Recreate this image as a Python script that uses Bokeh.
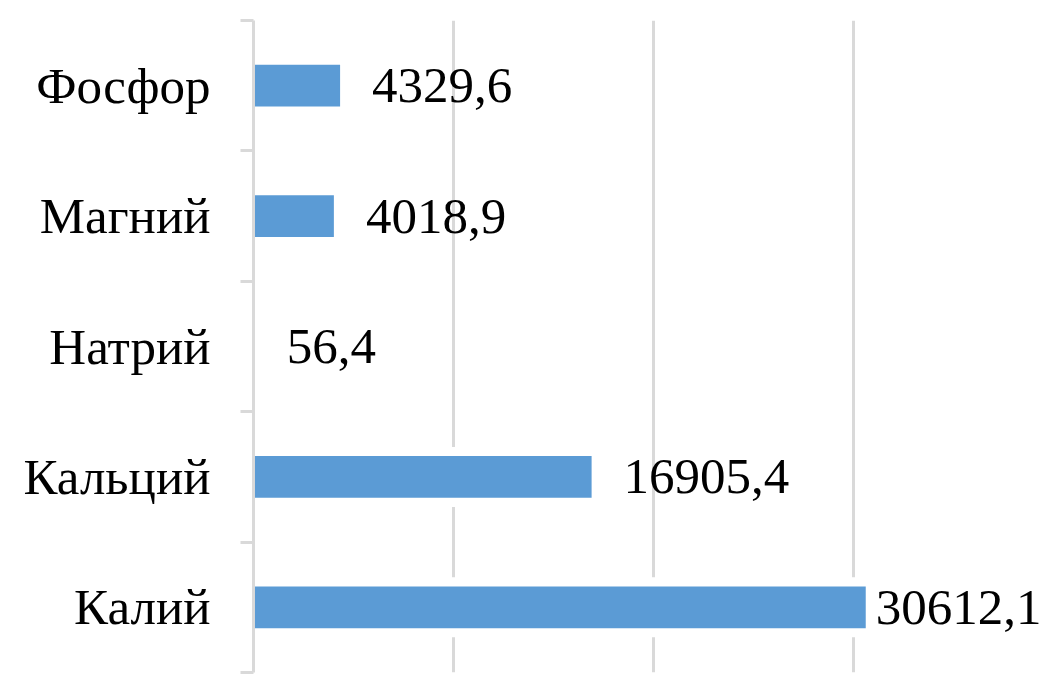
from bokeh.plotting import figure
from bokeh.models import ColumnDataSource, FixedTicker, Range1d
from bokeh.core.properties import value
from bokeh.embed import file_html
from bokeh.resources import INLINE

# Data (bottom to top)
categories = ["Калий", "Кальций", "Натрий", "Магний", "Фосфор"]
values = [30612.1, 16905.4, 56.4, 4018.9, 4329.6]
grid_values = [10000, 20000, 30000]

pos = [i + 0.5 for i in range(len(categories))]
labels = [f"{v:.1f}".replace(".", ",") for v in values]
vmax = max(values)
offsets = [10 if v > 0.8 * vmax else 32 for v in values]

src = ColumnDataSource(dict(y=pos, v=values, lab=labels, off=offsets))

GRAY = "#d9d9d9"
FONT = "Liberation Serif"
FS = "51px"

p = figure(width=1047, height=675, output_backend="svg", toolbar_location=None,
           x_range=Range1d(0, 39700), y_range=Range1d(0, len(categories)),
           x_axis_location=None, y_axis_location="left",
           min_border_top=20, min_border_bottom=3, min_border_right=0,
           min_border_left=253)
p.outline_line_color = None
p.background_fill_color = "white"
p.ygrid.visible = False

for g in p.xgrid:
    g.ticker = FixedTicker(ticks=grid_values)
    g.grid_line_color = GRAY
    g.grid_line_width = 3
    g.minor_grid_line_color = None

ax = p.yaxis[0]
ax.ticker = FixedTicker(ticks=pos, minor_ticks=list(range(len(categories) + 1)))
ax.major_label_overrides = {y: c for y, c in zip(pos, categories)}
ax.major_tick_line_color = None
ax.major_tick_out = 0
ax.major_tick_in = 0
ax.minor_tick_out = 13
ax.minor_tick_in = 0
ax.minor_tick_line_color = GRAY
ax.minor_tick_line_width = 3
ax.axis_line_color = GRAY
ax.axis_line_width = 3
ax.major_label_text_font = FONT
ax.major_label_text_font_size = FS
ax.major_label_text_color = "black"
ax.major_label_standoff = 30

# white band behind bars (breaks gridlines like the original)
p.hbar(y="y", left=0, right="v", height=0.46, source=src,
       fill_color="white", line_color=None)
p.hbar(y="y", left=0, right="v", height=0.32, source=src,
       fill_color="#5b9bd5", line_color=None)

p.text(x="v", y="y", text="lab", x_offset="off", source=src,
       text_font=value(FONT), text_font_size=FS,
       text_baseline="middle", text_align="left", text_color="black")

open("out.html", "w").write(file_html(p, INLINE))
